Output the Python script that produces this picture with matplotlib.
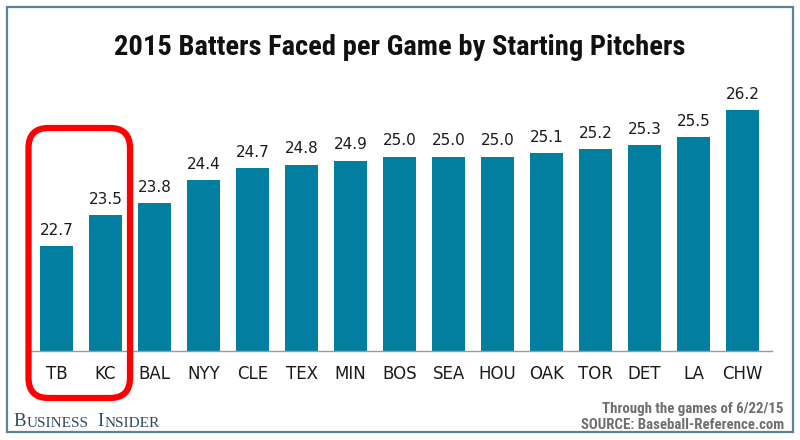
import matplotlib
matplotlib.use("Agg")
import matplotlib.pyplot as plt
from matplotlib import font_manager as fm
from matplotlib.patches import Rectangle, FancyBboxPatch
from matplotlib.transforms import IdentityTransform

teams = ["TB", "KC", "BAL", "NYY", "CLE", "TEX", "MIN", "BOS", "SEA", "HOU",
         "OAK", "TOR", "DET", "LA", "CHW"]
values = [22.7, 23.5, 23.8, 24.4, 24.7, 24.8, 24.9, 25.0, 25.0, 25.0,
          25.1, 25.2, 25.3, 25.5, 26.2]

title = "2015 Batters Faced per Game by Starting Pitchers"
note1 = "Through the games of 6/22/15"
note2 = "SOURCE: Baseball-Reference.com"

BAR = "#027fa0"
FRAME = "#5d8296"


def is_bold(f):
    n = (f.name + " " + f.fname).lower()
    return str(f.weight) in ("bold", "700") or ("bold" in n and "semibold" not in n
                                                 and "extrabold" not in n)


def pick_condensed():
    cands = []
    for f in fm.fontManager.ttflist:
        n = (f.name + " " + f.fname).lower()
        st = str(f.stretch).lower()
        if not is_bold(f) or "italic" in n or "oblique" in n:
            continue
        if "roboto" in n and "condensed" in n:
            cands.append((0, f.fname))
        elif "narrow" in n:
            cands.append((1, f.fname))
        elif "condensed" in n or st in ("condensed", "semi-condensed"):
            cands.append((2, f.fname))
    cands.sort()
    return cands[0] if cands else (None, None)


rank, cond = pick_condensed()

fig = plt.figure(figsize=(8, 4.4), dpi=100)
W, H = 800, 440

fig.patches.append(Rectangle((7 / W, 8 / H), 786 / W, 425 / H, transform=fig.transFigure,
                             fill=False, edgecolor=FRAME, linewidth=1.6))

ax = fig.add_axes([31 / W, (H - 351) / H, (772 - 31) / W, (351 - 90) / H])
x = list(range(len(teams)))
ax.bar(x, values, width=0.673, color=BAR, zorder=2)
ax.set_xlim(-0.52, 14.60)
ax.set_ylim(20, 26.72)
for s in ["top", "left", "right"]:
    ax.spines[s].set_visible(False)
ax.spines["bottom"].set_color("#9a9a9a")
ax.spines["bottom"].set_linewidth(1.0)
ax.set_yticks([])
ax.set_xticks(x)
ax.set_xticklabels(teams, fontsize=12, color="#1a1a1a", family="DejaVu Sans")
ax.tick_params(axis="x", length=0, pad=10)
for xi, v in zip(x, values):
    ax.annotate(f"{v:.1f}", (xi, v), xytext=(0, 6), textcoords="offset points",
                ha="center", va="bottom", fontsize=11, color="#1a1a1a", family="DejaVu Sans")

# sizes chosen so the text widths match the reference
if cond is not None and rank == 0:
    tsize, nsize = 20.5, 10.7
elif cond is not None and rank == 1:
    tsize, nsize = 18, 10.2
elif cond is not None:
    tsize, nsize = 16.5, 11.3
else:
    tsize, nsize = 16.5, 9.3
if cond is not None:
    tkw = dict(fontproperties=fm.FontProperties(fname=cond, size=tsize))
    nkw = dict(fontproperties=fm.FontProperties(fname=cond, size=nsize))
else:
    tkw = dict(fontsize=tsize, fontweight="bold", family="Roboto")
    nkw = dict(fontsize=nsize, fontweight="bold", family="Roboto")

fig.text(0.5, (H - 55) / H, title, ha="center", va="baseline", color="#111111", **tkw)
fig.text(784 / W, (H - 413) / H, note1, ha="right", va="baseline", color="#6f6f6f", **nkw)
fig.text(784 / W, (H - 429) / H, note2, ha="right", va="baseline", color="#6f6f6f", **nkw)

# Business Insider logo text (small caps emulation)
bi_color = "#2c4a5c"
parts = [("B", 13.5, 0.8), ("USINESS", 11, 0.8), ("I", 13.5, 6.0), ("NSIDER", 11, 0.8)]
prevart = None
for i, (txt, fs, gap) in enumerate(parts):
    if i == 0:
        prevart = fig.text(13 / W, (H - 426) / H, txt, ha="left", va="baseline", fontsize=fs,
                           family="Liberation Serif", color=bi_color)
    else:
        prevart = ax.annotate(txt, xy=(1, 0), xycoords=prevart, xytext=(gap, 0),
                              textcoords="offset points", ha="left", va="bottom",
                              fontsize=fs, family="Liberation Serif", color=bi_color,
                              annotation_clip=False)

fig.patches.append(FancyBboxPatch((28.5, H - 398), 101.5, 270,
                                  boxstyle="round,pad=0,rounding_size=20",
                                  transform=IdentityTransform(), fill=False,
                                  edgecolor="#ff0000", linewidth=4.5, zorder=5))

fig.savefig("out.png", dpi=100)
